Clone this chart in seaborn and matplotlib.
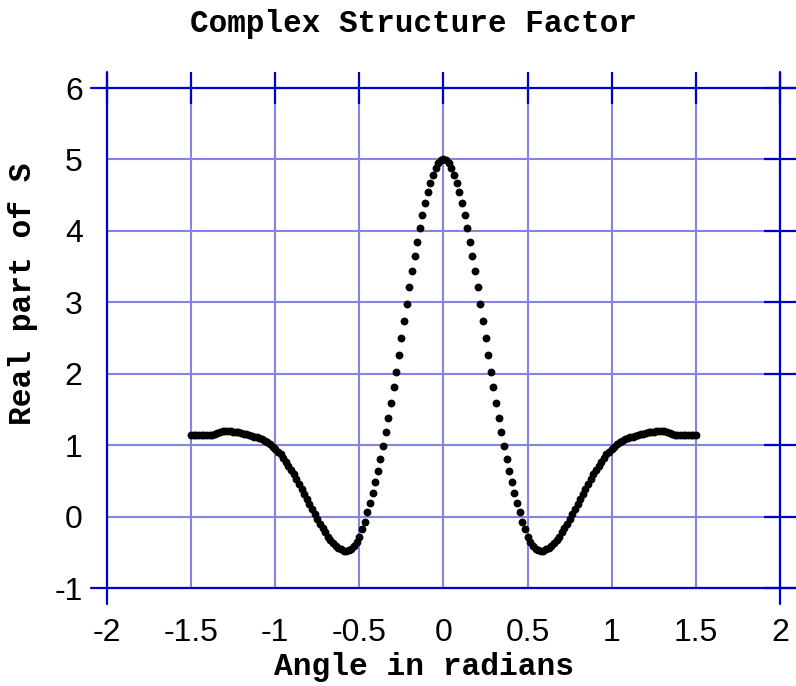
import numpy as np
import pandas as pd
import matplotlib
matplotlib.use("Agg")
import matplotlib.pyplot as plt
import seaborn as sns

# ---- data ----
real_s = [
    1.14, 1.14, 1.14, 1.14, 1.14, 1.14, 1.14, 1.14, 1.14,
    1.15, 1.17, 1.19, 1.20, 1.20, 1.20, 1.20, 1.19, 1.19, 1.18,
    1.17, 1.16, 1.15, 1.14, 1.13, 1.12, 1.11, 1.10, 1.08, 1.06,
    1.04, 1.01, 0.98, 0.95, 0.91, 0.87, 0.82, 0.77, 0.71, 0.65,
    0.59, 0.53, 0.46, 0.39, 0.32, 0.25, 0.18, 0.11, 0.04, -0.03,
    -0.10, -0.16, -0.22, -0.28, -0.33, -0.375, -0.41, -0.44, -0.46, -0.475,
    -0.48, -0.47, -0.45, -0.41, -0.35, -0.28, -0.18, -0.07, 0.06, 0.19,
    0.33, 0.48, 0.64, 0.81, 0.99, 1.18, 1.38, 1.59, 1.81, 2.03,
    2.26, 2.50, 2.74, 2.98, 3.22, 3.44, 3.65, 3.85, 4.04, 4.22,
    4.39, 4.54, 4.67, 4.785, 4.875, 4.945, 4.985,
    5.00,
    4.985, 4.945, 4.875, 4.785, 4.67, 4.54, 4.39, 4.22, 4.04, 3.85,
    3.65, 3.44, 3.22, 2.98, 2.74, 2.50, 2.26, 2.03, 1.81, 1.59,
    1.38, 1.18, 0.99, 0.81, 0.64, 0.48, 0.33, 0.19, 0.06, -0.07,
    -0.18, -0.28, -0.35, -0.41, -0.45, -0.47, -0.48, -0.475, -0.46, -0.44,
    -0.41, -0.375, -0.33, -0.28, -0.22, -0.16, -0.10, -0.03, 0.04, 0.11,
    0.18, 0.25, 0.32, 0.39, 0.46, 0.53, 0.59, 0.65, 0.71, 0.77,
    0.82, 0.87, 0.91, 0.95, 0.98, 1.01, 1.04, 1.06, 1.08, 1.10,
    1.11, 1.12, 1.13, 1.14, 1.15, 1.16, 1.17, 1.18, 1.19, 1.19,
    1.20, 1.20, 1.20, 1.20, 1.19, 1.17, 1.15,
    1.14, 1.14, 1.14, 1.14, 1.14, 1.14, 1.14, 1.14, 1.14,
]
angle_start, angle_end = -1.5, 1.5
angle = np.linspace(angle_start, angle_end, len(real_s))

x_ticks = [-2, -1.5, -1, -0.5, 0, 0.5, 1, 1.5, 2]
x_tick_labels = ["-2", "-1.5", "-1", "-0.5", "0", "0.5", "1", "1.5", "2"]
y_ticks = [-1, 0, 1, 2, 3, 4, 5, 6]
y_tick_labels = ["-1", "0", "1", "2", "3", "4", "5", "6"]

title = "Complex Structure Factor"
x_label = "Angle in radians"
y_label = "Real part of S"

df = pd.DataFrame({"angle": angle, "real": real_s})

# ---- styling ----
sns.set_style("white")
plt.rcParams["font.family"] = ["Liberation Sans", "DejaVu Sans"]

W, H = 796, 686
fig = plt.figure(figsize=(W / 100, H / 100), dpi=100)
ax_l, ax_r, ax_t, ax_b = 107, 780, 88, 588
ax = fig.add_axes([ax_l / W, 1 - ax_b / H, (ax_r - ax_l) / W, (ax_b - ax_t) / H])

grid_c = "#8484e6"
dark_c = "#0000cc"

ax.set_xlim(-2, 2)
ax.set_ylim(-1, 6)
for s in ax.spines.values():
    s.set_visible(False)

ax.set_xticks(x_ticks)
ax.set_xticklabels(x_tick_labels)
ax.set_yticks(y_ticks)
ax.set_yticklabels(y_tick_labels)
ax.grid(True, color=grid_c, linewidth=1.5, zorder=0)
ax.set_axisbelow(True)

ext_x = 16 / (ax_r - ax_l)
ext_y = 16 / (ax_b - ax_t)
for yv in (-1, 6):
    ax.axhline(yv, xmin=-ext_x, xmax=1 + ext_x, color=dark_c, lw=1.6,
               clip_on=False, zorder=1)
for xv in (-2, 2):
    ax.axvline(xv, ymin=-ext_y, ymax=1 + ext_y, color=dark_c, lw=1.6,
               clip_on=False, zorder=1)

ax.tick_params(axis="both", which="major", direction="inout", length=23,
               width=1.6, color=dark_c, top=True, right=True,
               labelsize=23, labelcolor="black")
ax.tick_params(axis="y", pad=6)
ax.tick_params(axis="x", pad=10)

sns.scatterplot(data=df, x="angle", y="real", color="black", s=32,
                linewidth=0, edgecolor=None, ax=ax, zorder=3, clip_on=False)
ax.set_xlabel("")
ax.set_ylabel("")

mono = ["Liberation Mono", "DejaVu Sans Mono"]
fig.text(414 / W, 1 - 24 / H, title, ha="center", va="center",
         fontsize=22.3, fontweight="bold", family=mono, color="black")
fig.text(424 / W, 1 - 667 / H, x_label, ha="center", va="center",
         fontsize=22.5, fontweight="bold", family=mono, color="black")
fig.text(23 / W, 1 - 294 / H, y_label, ha="center", va="center",
         rotation=90, fontsize=22.5, fontweight="bold", family=mono,
         color="black")

fig.savefig("out.png", dpi=100)
